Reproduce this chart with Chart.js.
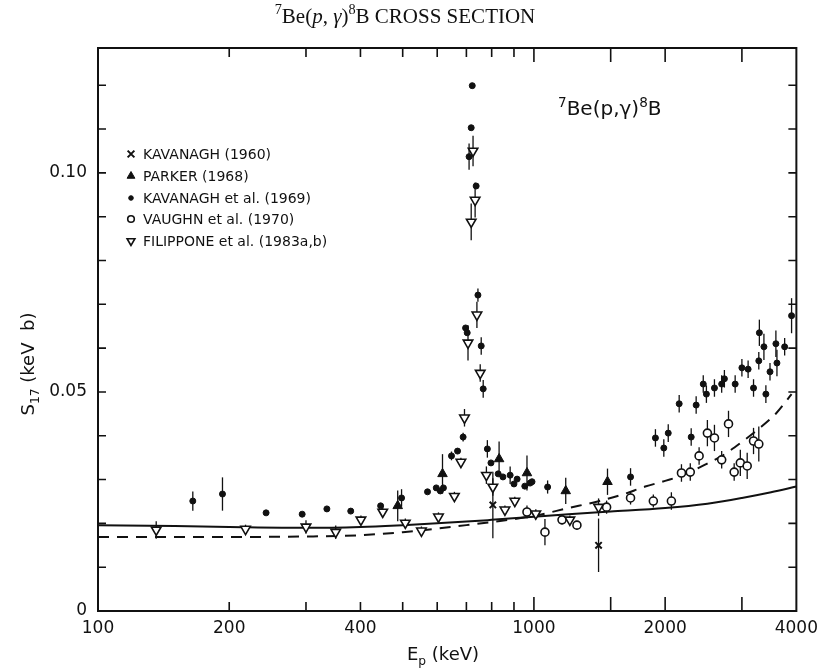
<!DOCTYPE html>
<html><head><meta charset="utf-8">
<script src="https://cdn.jsdelivr.net/npm/chart.js"></script>
<style>html,body{margin:0;padding:0;background:#fff;}#wrap{position:relative;width:825px;height:669px;}</style>
</head><body><div id="wrap"><canvas id="c"></canvas></div>
<script>
// ---- tick labels ----
const xTickLabels = [100, 200, 400, 1000, 2000, 4000];
const yTickLabels = [0, 0.05, 0.10];
const seriesNames = ['KAVANAGH (1960)', 'PARKER (1968)', 'KAVANAGH et al. (1969)', 'VAUGHN et al. (1970)', 'FILIPPONE et al. (1983a,b)'];

// ---- KAVANAGH (1960) ----
const kav60E = [805, 1407];
const kav60S = [0.0242, 0.0150];
const kav60Err = [0.0076, 0.0061];

// ---- PARKER (1968) ----
const parkerE = [487, 617, 832, 964, 1183, 1475];
const parkerS = [0.0240, 0.0313, 0.0347, 0.0315, 0.0274, 0.0295];
const parkerErr = [0.0035, 0.0045, 0.004, 0.004, 0.003, 0.003];

// ---- KAVANAGH et al. (1969) ----
const kav69E = [165,193,243,294,335,380,445,497,570,597,610,620,647,668,688,697,703,710,718,722,737,744,757,765,782,797,828,849,882,900,915,953,980,990,1075,1666,1900,1986,2033,2154,2295,2356,2446,2487,2595,2696,2735,2895,3000,3100,3190,3280,3290,3370,3405,3480,3590,3610,3760,3900];
const kav69S = [0.0251,0.0267,0.0224,0.0221,0.0233,0.0228,0.0240,0.0258,0.0272,0.0281,0.0274,0.0281,0.0354,0.0365,0.0397,0.0646,0.0635,0.1037,0.1103,0.1199,0.0970,0.0721,0.0605,0.0507,0.0370,0.0338,0.0313,0.0306,0.0310,0.0290,0.0301,0.0285,0.0292,0.0295,0.0283,0.0306,0.0395,0.0372,0.0406,0.0473,0.0397,0.0470,0.0518,0.0495,0.0509,0.0518,0.0530,0.0518,0.0555,0.0552,0.0509,0.0571,0.0635,0.0603,0.0495,0.0546,0.0610,0.0566,0.0603,0.0674];
const kav69Err = [0.0022,0.0038,0,0,0,0,0,0.002,0,0,0,0,0.001,0,0.001,0,0,0.003,0,0,0,0.0015,0.002,0.002,0.002,0,0,0,0.002,0,0,0,0,0,0.0015,0.002,0.002,0.002,0.002,0.002,0.002,0.002,0.002,0.002,0.002,0.002,0.002,0.002,0.002,0.002,0.002,0.002,0.003,0.003,0.002,0.002,0.003,0.003,0.002,0.004];

// ---- VAUGHN et al. (1970) ----
const vaughnE = [964,1060,1160,1255,1468,1666,1879,2067,2180,2284,2393,2500,2595,2696,2795,2880,2975,3085,3190,3280];
const vaughnS = [0.0226,0.0180,0.0208,0.0196,0.0237,0.0258,0.0251,0.0251,0.0315,0.0317,0.0354,0.0406,0.0395,0.0345,0.0427,0.0317,0.0338,0.0331,0.0388,0.0381];
const vaughnErr = [0.0015,0.003,0.001,0.001,0.0015,0.0015,0.0015,0.002,0.002,0.002,0.002,0.003,0.003,0.002,0.003,0.002,0.003,0.003,0.003,0.004];

// ---- FILIPPONE et al. (1983a,b) ----
const filipE = [136,218,300,351,401,450,507,552,604,657,680,693,706,718,725,733,740,753,778,805,858,904,1010,1209,1407];
const filipS = [0.0185,0.0187,0.0192,0.0180,0.0208,0.0226,0.0201,0.0183,0.0215,0.0262,0.0340,0.0441,0.0612,0.0888,0.1050,0.0938,0.0676,0.0543,0.0310,0.0283,0.0231,0.0251,0.0222,0.0208,0.0237];
const filipErr = [0.002,0.001,0.0015,0.0015,0.001,0.001,0.001,0.001,0.001,0.001,0.001,0.002,0.004,0.0042,0.0035,0.004,0.003,0.002,0.002,0.002,0.001,0.001,0.001,0.001,0.002];

// ---- theory curves ----
const solidE = [100,150,200,300,400,500,600,700,800,1000,1200,1500,2000,2500,3000,3500,4000];
const solidS = [0.0196,0.0194,0.0192,0.0190,0.0192,0.0196,0.0200,0.0204,0.0208,0.0215,0.0221,0.0227,0.0235,0.0245,0.0258,0.0271,0.0284];
const dashE = [100,200,300,400,500,600,700,800,1000,1200,1400,1600,1800,2000,2200,2400,2700,3000,3300,3600,3900];
const dashS = [0.0169,0.0169,0.0170,0.0173,0.0180,0.0188,0.0196,0.0203,0.0217,0.0235,0.0250,0.0266,0.0284,0.0297,0.0310,0.0328,0.0354,0.0386,0.0418,0.0452,0.0495];

const pts = (E, S) => E.map((e, i) => ({x: e, y: S[i]}));
const INK = '#111';
const SANS = '"DejaVu Sans", sans-serif';

const markerStyles = [
  {pointStyle: 'crossRot', radius: 4.5, rotation: 0, fill: INK, border: INK, bw: 2},
  {pointStyle: 'triangle', radius: 5.5, rotation: 0, fill: INK, border: INK, bw: 1},
  {pointStyle: 'circle', radius: 3, rotation: 0, fill: INK, border: INK, bw: 1},
  {pointStyle: 'circle', radius: 4, rotation: 0, fill: '#fff', border: INK, bw: 1.6},
  {pointStyle: 'triangle', radius: 5.5, rotation: 180, fill: '#fff', border: INK, bw: 1.6}
];
const seriesData = [[kav60E, kav60S, kav60Err], [parkerE, parkerS, parkerErr], [kav69E, kav69S, kav69Err], [vaughnE, vaughnS, vaughnErr], [filipE, filipS, filipErr]];

const datasets = [
  {label: 'theory', data: pts(solidE, solidS), showLine: true, borderColor: INK, borderWidth: 2, pointRadius: 0, cubicInterpolationMode: 'monotone', order: 10},
  {label: 'theory2', data: pts(dashE, dashS), showLine: true, borderColor: INK, borderWidth: 2, borderDash: [11, 8], pointRadius: 0, cubicInterpolationMode: 'monotone', order: 10}
];
seriesData.forEach((s, k) => {
  const m = markerStyles[k];
  datasets.push({label: seriesNames[k], data: pts(s[0], s[1]), err: s[2], showLine: false,
    pointStyle: m.pointStyle, pointRadius: m.radius, pointRotation: m.rotation,
    pointBackgroundColor: m.fill, pointBorderColor: m.border, pointBorderWidth: m.bw, order: 5 - k});
});

function drawMarker(ctx, m, x, y) {
  ctx.save();
  ctx.fillStyle = m.fill; ctx.strokeStyle = m.border; ctx.lineWidth = m.bw;
  const r = m.radius;
  ctx.beginPath();
  if (m.pointStyle === 'circle') { ctx.arc(x, y, r, 0, Math.PI * 2); ctx.fill(); ctx.stroke(); }
  else if (m.pointStyle === 'triangle') {
    let a = m.rotation * Math.PI / 180;
    for (let i = 0; i < 3; i++) { const px = x + Math.sin(a) * r, py = y - Math.cos(a) * r; i ? ctx.lineTo(px, py) : ctx.moveTo(px, py); a += 2 * Math.PI / 3; }
    ctx.closePath(); ctx.fill(); ctx.stroke();
  } else {
    const d = r * 0.75;
    ctx.moveTo(x - d, y - d); ctx.lineTo(x + d, y + d); ctx.moveTo(x + d, y - d); ctx.lineTo(x - d, y + d); ctx.stroke();
  }
  ctx.restore();
}

function fontFor(p, size, family) {
  const s = (p.sup || p.sub) ? size * 0.68 : size;
  return (p.it ? 'italic ' : '') + s + 'px ' + family;
}
function richWidth(ctx, parts, size, family) {
  let w = 0;
  parts.forEach(p => { ctx.font = fontFor(p, size, family); w += ctx.measureText(p.t).width; });
  return w;
}
function drawRich(ctx, parts, x, y, size, family, align) {
  const w = richWidth(ctx, parts, size, family);
  let cx = align === 'center' ? x - w / 2 : x;
  ctx.textAlign = 'left'; ctx.textBaseline = 'alphabetic'; ctx.fillStyle = INK;
  parts.forEach(p => {
    ctx.font = fontFor(p, size, family);
    const dy = p.sup ? -size * 0.42 : (p.sub ? size * 0.28 : 0);
    ctx.fillText(p.t, cx, y + dy);
    cx += ctx.measureText(p.t).width;
  });
}

const decor = {
  id: 'decor',
  beforeDatasetsDraw(chart) {
    const {ctx, scales: {x, y}} = chart;
    ctx.save();
    ctx.strokeStyle = INK; ctx.lineWidth = 1.3;
    chart.data.datasets.forEach(ds => {
      if (!ds.err) return;
      ds.data.forEach((p, i) => {
        const e = ds.err[i]; if (!e) return;
        const px = x.getPixelForValue(p.x);
        ctx.beginPath(); ctx.moveTo(px, y.getPixelForValue(p.y - e)); ctx.lineTo(px, y.getPixelForValue(p.y + e)); ctx.stroke();
      });
    });
    ctx.restore();
  },
  afterDraw(chart) {
    const {ctx, chartArea: a, scales: {x, y}} = chart;
    ctx.save();
    ctx.strokeStyle = INK; ctx.lineWidth = 2;
    ctx.strokeRect(a.left, a.top, a.right - a.left, a.bottom - a.top);
    ctx.lineWidth = 1.6;
    x.ticks.forEach(t => {
      if (t.value <= x.min || t.value >= x.max) return;
      const px = x.getPixelForValue(t.value);
      const len = t.value >= 1000 ? 14 : 9;
      ctx.beginPath(); ctx.moveTo(px, a.bottom); ctx.lineTo(px, a.bottom - len);
      ctx.moveTo(px, a.top); ctx.lineTo(px, a.top + len); ctx.stroke();
    });
    y.ticks.forEach(t => {
      if (t.value <= y.min || t.value >= y.max) return;
      const py = y.getPixelForValue(t.value);
      ctx.beginPath(); ctx.moveTo(a.left, py); ctx.lineTo(a.left + 8, py);
      ctx.moveTo(a.right, py); ctx.lineTo(a.right - 8, py); ctx.stroke();
    });
    // title
    drawRich(ctx, [{t: '7', sup: 1}, {t: 'Be('}, {t: 'p', it: 1}, {t: ', '}, {t: 'γ', it: 1}, {t: ')'}, {t: '8', sup: 1}, {t: 'B CROSS SECTION'}],
      405, 23, 21, '"Liberation Serif", serif', 'center');
    // annotation
    drawRich(ctx, [{t: '7', sup: 1}, {t: 'Be(p,'}, {t: 'γ'}, {t: ')'}, {t: '8', sup: 1}, {t: 'B'}], 558, 115, 20, SANS, 'left');
    // x title
    drawRich(ctx, [{t: 'E'}, {t: 'p', sub: 1}, {t: ' (keV)'}], 443, 660, 18, SANS, 'center');
    // y title
    ctx.save(); ctx.translate(34, 364); ctx.rotate(-Math.PI / 2);
    drawRich(ctx, [{t: 'S'}, {t: '17', sub: 1}, {t: ' (keV  b)'}], 0, 0, 18, SANS, 'center');
    ctx.restore();
    // legend
    const rowY = [154, 176, 198, 219, 241];
    seriesNames.forEach((n, k) => {
      const m = Object.assign({}, markerStyles[k]);
      m.radius = m.pointStyle === 'circle' ? (k === 2 ? 2.3 : 3.3) : 4.5;
      drawMarker(ctx, m, 131, rowY[k]);
      ctx.font = '14px ' + SANS; ctx.fillStyle = INK; ctx.textAlign = 'left'; ctx.textBaseline = 'middle';
      ctx.fillText(n, 143, rowY[k] + 1);
    });
    ctx.restore();
  }
};

new Chart(document.getElementById('c'), {
  type: 'scatter',
  data: {datasets},
  plugins: [decor],
  options: {
    responsive: true, maintainAspectRatio: false, animation: false,
    layout: {padding: {top: 48, right: 25, bottom: 0, left: 0}},
    plugins: {legend: {display: false}, tooltip: {enabled: false}, title: {display: false}},
    scales: {
      x: {
        type: 'logarithmic', min: 100, max: 4000,
        grid: {display: false, drawTicks: false}, border: {display: false},
        ticks: {autoSkip: false, maxRotation: 0, padding: 7, color: INK, font: {family: SANS, size: 17},
          callback: (v) => xTickLabels.includes(v) ? String(v) : ''},
        afterFit: (s) => { s.height = 58; }
      },
      y: {
        type: 'linear', min: 0, max: 0.1285,
        grid: {display: false, drawTicks: false}, border: {display: false},
        ticks: {stepSize: 0.01, includeBounds: false, autoSkip: false, padding: 11, color: INK, font: {family: SANS, size: 17},
          callback: (v) => { const r = Math.round(v * 100) / 100; return yTickLabels.some(l => Math.abs(l - r) < 1e-9) && Math.abs(v - r) < 1e-9 ? (r === 0 ? '0' : r.toFixed(2)) : ''; }},
        afterFit: (s) => { s.width = 98; }
      }
    }
  }
});
</script>
</body></html>
